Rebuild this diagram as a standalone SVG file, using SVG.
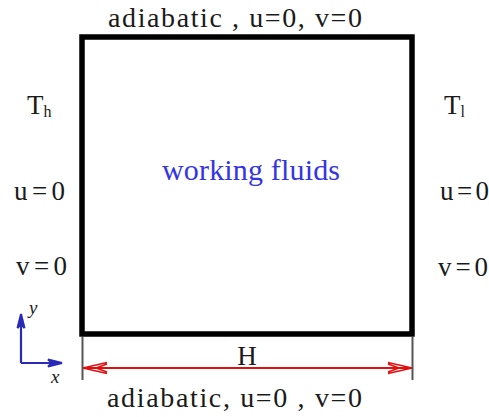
<svg xmlns="http://www.w3.org/2000/svg" width="489" height="417" viewBox="0 0 489 417">
<style>
text{font-family:"Liberation Serif","Times New Roman",serif;fill:#1a1a1a}
.lbl{font-size:28px}
.sd{font-size:27px}
.ax{stroke:#2a2ab8;stroke-width:2.2;fill:none}
.ah{stroke:#2a2ab8;stroke-width:2;fill:#2a2ab8}
</style>
<rect width="489" height="417" fill="#fff"/>
<g id="domain">
<rect x="82" y="37" width="330" height="297" fill="none" stroke="#000" stroke-width="5.5"/>
<text x="251" y="180" text-anchor="middle" style="font-size:30px;fill:#3434e6" textLength="178" lengthAdjust="spacing">working fluids</text>
</g>
<g id="top-label"><text class="lbl" x="108" y="27" textLength="254" lengthAdjust="spacing">adiabatic , u=0, v=0</text></g>
<g id="bottom-label"><text class="lbl" x="107" y="407" textLength="255" lengthAdjust="spacing">adiabatic, u=0 , v=0</text></g>
<g id="left-labels">
<text class="sd" x="27" y="114">T<tspan font-size="16" dy="3">h</tspan></text>
<text class="sd" x="14" y="200" textLength="51" lengthAdjust="spacing">u=0</text>
<text class="sd" x="16" y="275" textLength="51" lengthAdjust="spacing">v=0</text>
</g>
<g id="right-labels">
<text class="sd" x="444" y="114">T<tspan font-size="16" dy="3">l</tspan></text>
<text class="sd" x="440" y="200" textLength="49" lengthAdjust="spacing">u=0</text>
<text class="sd" x="438" y="276" textLength="50" lengthAdjust="spacing">v=0</text>
</g>
<g id="axes">
<path class="ax" d="M21,363 V320 M21,363 H57"/>
<path class="ah" d="M21,314 L17.5,328 L21,324 L24.5,328 Z"/>
<path class="ah" d="M62,363 L48,359.5 L52,363 L48,366.5 Z"/>
<text x="29" y="314" style="font-size:19px;font-style:italic">y</text>
<text x="51" y="383" style="font-size:19px;font-style:italic">x</text>
</g>
<g id="connectors">
<path d="M82.5,337 V380 M412.5,337 V380" stroke="#555" stroke-width="2" fill="none"/>
<path d="M83,368 H412" stroke="#e01010" stroke-width="2" fill="none"/>
<path d="M83,368 L107,362.5 M83,368 L107,373.5 M96,368 L107,364 M96,368 L107,372" stroke="#e01010" stroke-width="1.6" fill="none"/>
<path d="M412,368 L388,362.5 M412,368 L388,373.5 M399,368 L388,364 M399,368 L388,372" stroke="#e01010" stroke-width="1.6" fill="none"/>
<text x="247" y="365" text-anchor="middle" style="font-size:27px">H</text>
</g>
</svg>
